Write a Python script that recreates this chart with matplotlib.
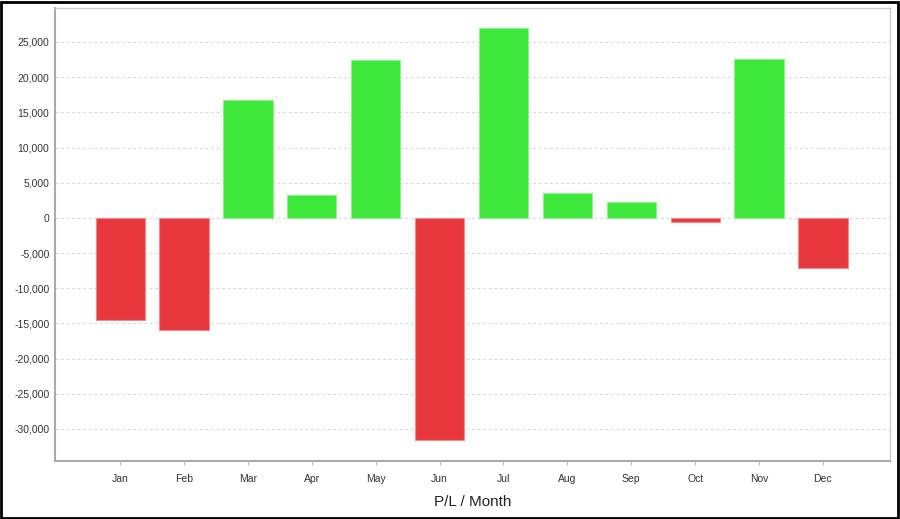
import matplotlib.pyplot as plt
from matplotlib.ticker import FuncFormatter, MultipleLocator

months = ['Jan', 'Feb', 'Mar', 'Apr', 'May', 'Jun',
          'Jul', 'Aug', 'Sep', 'Oct', 'Nov', 'Dec']
pnl = [-14500, -15900, 16800, 3200, 22450, -31550,
       27000, 3600, 2250, -600, 22600, -7100]

green = '#3de83a'
red = '#e8383d'

plt.rcParams['font.family'] = ['Liberation Sans', 'DejaVu Sans']

fig = plt.figure(figsize=(9, 5.19), dpi=100)
ax = fig.add_axes([55 / 900, 58 / 519, 835 / 900, 453 / 519])

colors = [green if v >= 0 else red for v in pnl]
edges = ['#8ff08c' if v >= 0 else '#f08a8d' for v in pnl]
x = range(len(months))
ax.bar(x, pnl, width=0.77, color=colors, edgecolor=edges, linewidth=0.8, zorder=3)

ax.set_xlim(-1.02, 12.05)
ax.set_ylim(-34550, 29830)
ax.yaxis.set_major_locator(MultipleLocator(5000))
ax.yaxis.set_major_formatter(FuncFormatter(lambda v, p: f'{int(v):,}'))
ax.set_xticks(list(x))
ax.set_xticklabels(months)

ax.grid(axis='y', color='#d8d8d8', linestyle=(0, (2.5, 2.5)), linewidth=0.8, zorder=0)
ax.tick_params(axis='both', labelsize=7.5, colors='#333333', length=3, width=0.6)
ax.tick_params(axis='y', length=0, pad=4)
ax.tick_params(axis='x', color='#aaaaaa', pad=6)

for side in ['top', 'right']:
    ax.spines[side].set_color('#cccccc')
    ax.spines[side].set_linewidth(1.0)
for side in ['left', 'bottom']:
    ax.spines[side].set_color('#aaaaaa')
    ax.spines[side].set_linewidth(1.5)

ax.set_xlabel('P/L / Month', fontsize=11, color='#222222', labelpad=8)

# outer frame
fig.patches.append(plt.Rectangle((0.001, 0.002), 0.997, 0.995, transform=fig.transFigure,
                                 fill=False, edgecolor='black', linewidth=2))

fig.savefig('out.png', dpi=100)
